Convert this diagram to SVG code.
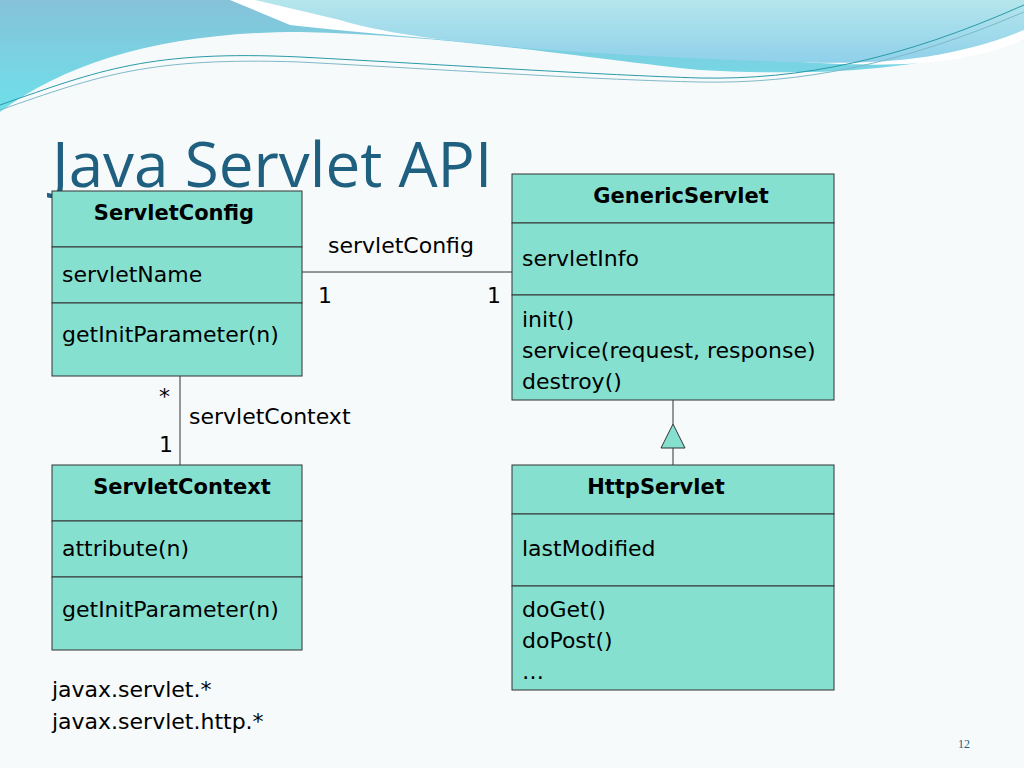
<svg xmlns="http://www.w3.org/2000/svg" width="1024" height="768" viewBox="0 0 1024 768">
<defs>
<linearGradient id="bg1" x1="0" y1="0" x2="0" y2="1"><stop offset="0" stop-color="#86c2d9"/><stop offset="1" stop-color="#6ee0ea"/></linearGradient>
<linearGradient id="bg2" x1="0" y1="0" x2="0" y2="1"><stop offset="0" stop-color="#b5e6ec"/><stop offset="1" stop-color="#8fd0ea"/></linearGradient>
<style>
.box{fill:#86e0d0;stroke:#333;stroke-width:1}
.t{font-family:Verdana,"DejaVu Sans",sans-serif;font-size:22px;fill:#000}
.b{font-weight:bold;text-anchor:middle;font-size:21px}
.ln{stroke:#333;stroke-width:1;fill:none}
</style>
</defs>
<rect width="1024" height="768" fill="#f7fafb"/>
<path d="M0,0 H1024 V40 C900,75 800,75 700,70 C600,60 450,35 300,32 C170,32 70,60 0,112 Z" fill="url(#bg1)"/>
<path d="M230,0 H1024 V40 C960,65 900,68 800,62 C650,55 420,40 290,25 Z" fill="#fff"/>
<path d="M255,0 H1024 V30 C950,60 880,65 790,62 C600,55 420,45 340,20 Z" fill="url(#bg2)"/>
<path d="M0,105 C100,70 150,50 300,57 C450,65 600,75 700,78 C800,80 900,60 1024,5" stroke="#2a9aa8" stroke-width="1" fill="none"/>
<path d="M0,110 C100,75 150,57 300,62 C450,70 600,80 700,82 C800,84 900,65 1024,12" stroke="#7fb9c8" stroke-width="1" fill="none"/>
<text x="52" y="187" font-family="'Open Sans','DejaVu Sans',sans-serif" font-size="62" fill="#1f5f7f">Java Servlet API</text>
<g id="connectors">
<line class="ln" x1="302" y1="272" x2="512" y2="272"/>
<line class="ln" x1="180" y1="376" x2="180" y2="465"/>
<line class="ln" x1="673" y1="400" x2="673" y2="424"/>
<line class="ln" x1="673" y1="448" x2="673" y2="465"/>
<polygon points="673,424 661,448 685,448" class="box"/>
<text class="t" x="328" y="253">servletConfig</text>
<text class="t" x="318" y="303">1</text>
<text class="t" x="487" y="303">1</text>
<text class="t" x="159" y="404">*</text>
<text class="t" x="189" y="424">servletContext</text>
<text class="t" x="159" y="452">1</text>
</g>
<g id="ServletConfig">
<rect class="box" x="52" y="191" width="250" height="56"/>
<rect class="box" x="52" y="247" width="250" height="56"/>
<rect class="box" x="52" y="303" width="250" height="73"/>
<text class="t b" x="174" y="220">ServletConfig</text>
<text class="t" x="62" y="282">servletName</text>
<text class="t" x="62" y="342">getInitParameter(n)</text>
</g>
<g id="GenericServlet">
<rect class="box" x="512" y="174" width="322" height="49"/>
<rect class="box" x="512" y="223" width="322" height="72"/>
<rect class="box" x="512" y="295" width="322" height="105"/>
<text class="t b" x="681" y="203">GenericServlet</text>
<text class="t" x="522" y="266">servletInfo</text>
<text class="t" x="522" y="327">init()</text>
<text class="t" x="522" y="358">service(request, response)</text>
<text class="t" x="522" y="389">destroy()</text>
</g>
<g id="ServletContext">
<rect class="box" x="52" y="465" width="250" height="56"/>
<rect class="box" x="52" y="521" width="250" height="56"/>
<rect class="box" x="52" y="577" width="250" height="73"/>
<text class="t b" x="182" y="494">ServletContext</text>
<text class="t" x="62" y="556">attribute(n)</text>
<text class="t" x="62" y="617">getInitParameter(n)</text>
</g>
<g id="HttpServlet">
<rect class="box" x="512" y="465" width="322" height="49"/>
<rect class="box" x="512" y="514" width="322" height="72"/>
<rect class="box" x="512" y="586" width="322" height="104"/>
<text class="t b" x="656" y="494">HttpServlet</text>
<text class="t" x="522" y="556">lastModified</text>
<text class="t" x="522" y="617">doGet()</text>
<text class="t" x="522" y="648">doPost()</text>
<text class="t" x="522" y="679">…</text>
</g>
<text class="t" x="52" y="697">javax.servlet.*</text>
<text class="t" x="52" y="729">javax.servlet.http.*</text>
<text x="958" y="748" font-family="'Liberation Serif',serif" font-size="12" fill="#1f5f7f">12</text>
</svg>
